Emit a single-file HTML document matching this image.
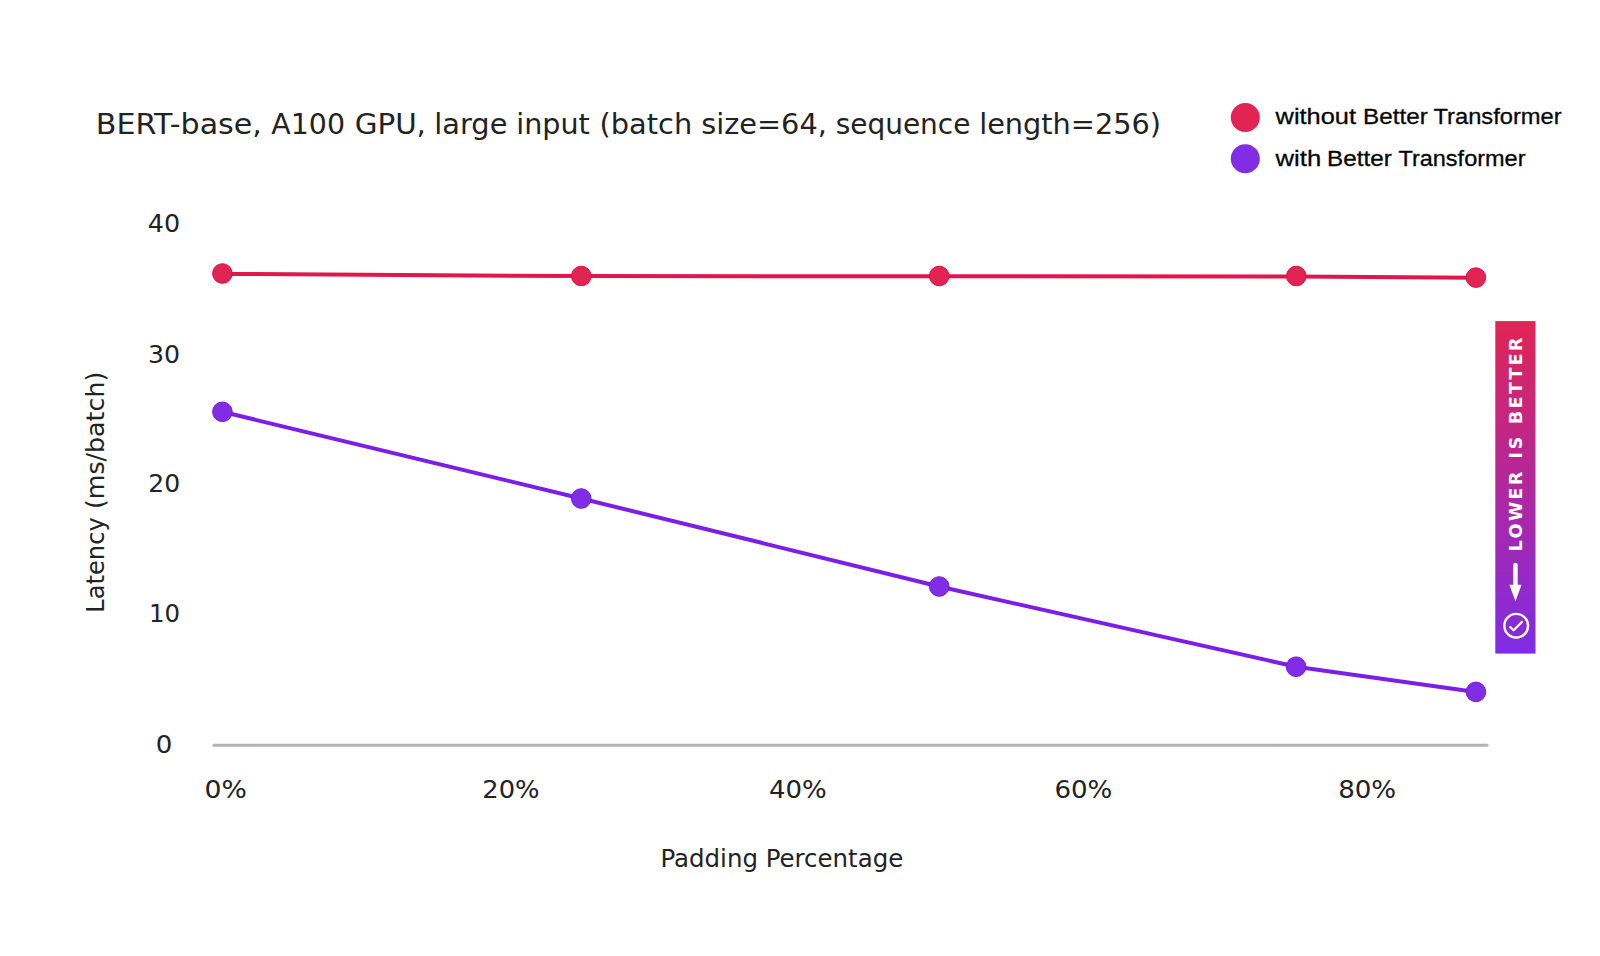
<!DOCTYPE html>
<html lang="en">
<head>
<meta charset="utf-8">
<title>BERT-base latency chart</title>
<style>
  html, body { margin: 0; padding: 0; background: #ffffff; }
  body { width: 1600px; height: 956px; overflow: hidden; }
  svg { display: block; }
  .v { font-family: "DejaVu Sans", "Liberation Sans", sans-serif; fill: #222222; }
  .vb { font-family: "DejaVu Sans", "Liberation Sans", sans-serif; font-weight: bold; fill: #ffffff; }
  .c { font-family: "Liberation Sans", "DejaVu Sans", sans-serif; fill: #050505; stroke: #050505; stroke-width: 0.3px; }
</style>
</head>
<body>
<svg width="1600" height="956" viewBox="0 0 1600 956">
  <defs>
    <linearGradient id="bg" x1="0" y1="0" x2="0" y2="1">
      <stop offset="0" stop-color="#E12454"/>
      <stop offset="1" stop-color="#802BE6"/>
    </linearGradient>
  </defs>
  <rect x="0" y="0" width="1600" height="956" fill="#ffffff"/>

  <!-- title -->
  <text class="v" y="134.3" font-size="28" lengthAdjust="spacingAndGlyphs"><tspan x="95.8" textLength="166.02" lengthAdjust="spacingAndGlyphs">BERT-base,</tspan> <tspan x="271.25" textLength="73.74" lengthAdjust="spacingAndGlyphs">A100</tspan> <tspan x="354.68" textLength="71.29" lengthAdjust="spacingAndGlyphs">GPU,</tspan> <tspan x="434.27" textLength="73.15" lengthAdjust="spacingAndGlyphs">large</tspan> <tspan x="516.29" textLength="73.5" lengthAdjust="spacingAndGlyphs">input</tspan> <tspan x="599.52" textLength="92.74" lengthAdjust="spacingAndGlyphs">(batch</tspan> <tspan x="701.21" textLength="125.65" lengthAdjust="spacingAndGlyphs">size=64,</tspan> <tspan x="835.7" textLength="134.73" lengthAdjust="spacingAndGlyphs">sequence</tspan> <tspan x="979.17" textLength="181.92" lengthAdjust="spacingAndGlyphs">length=256)</tspan></text>

  <!-- legend -->
  <circle cx="1245.3" cy="117.5" r="14.5" fill="#E12454"/>
  <circle cx="1245.3" cy="158.8" r="14.5" fill="#812CE5"/>
  <text class="c" y="124" font-size="22.5"><tspan x="1275.6" textLength="80.45" lengthAdjust="spacingAndGlyphs">without</tspan> <tspan x="1363.11" textLength="64.69" lengthAdjust="spacingAndGlyphs">Better</tspan> <tspan x="1433.47" textLength="128.24" lengthAdjust="spacingAndGlyphs">Transformer</tspan></text>
  <text class="c" y="166.4" font-size="22.5"><tspan x="1275.6" textLength="45.63" lengthAdjust="spacingAndGlyphs">with</tspan> <tspan x="1327.11" textLength="64.69" lengthAdjust="spacingAndGlyphs">Better</tspan> <tspan x="1398.48" textLength="126.98" lengthAdjust="spacingAndGlyphs">Transformer</tspan></text>

  <!-- y tick labels -->
  <g class="v" font-size="25">
    <text x="147.81" y="231.9" textLength="32.3" lengthAdjust="spacingAndGlyphs">40</text>
    <text x="148.06" y="362.6" textLength="32.04" lengthAdjust="spacingAndGlyphs">30</text>
    <text x="148.22" y="491.6" textLength="31.87" lengthAdjust="spacingAndGlyphs">20</text>
    <text x="148.98" y="621.6" textLength="31.07" lengthAdjust="spacingAndGlyphs">10</text>
    <text x="155.76" y="753.4" textLength="16.55" lengthAdjust="spacingAndGlyphs">0</text>
  </g>

  <!-- y axis title -->
  <text class="v" font-size="25" transform="translate(104.2 0) rotate(-90)"><tspan x="-612.71" y="0" textLength="95.41" lengthAdjust="spacingAndGlyphs">Latency</tspan> <tspan x="-509.07" y="0" textLength="137.34" lengthAdjust="spacingAndGlyphs">(ms/batch)</tspan></text>

  <!-- x axis line -->
  <line x1="214" y1="745.25" x2="1487" y2="745.25" stroke="#B3B3B3" stroke-width="3" stroke-linecap="round"/>

  <!-- x tick labels -->
  <g class="v" font-size="25">
    <text x="204.61" y="797.9" textLength="42.33" lengthAdjust="spacingAndGlyphs">0%</text>
    <text x="482.27" y="797.9" textLength="57.26" lengthAdjust="spacingAndGlyphs">20%</text>
    <text x="768.98" y="797.9" textLength="57.76" lengthAdjust="spacingAndGlyphs">40%</text>
    <text x="1054.4" y="797.9" textLength="57.95" lengthAdjust="spacingAndGlyphs">60%</text>
    <text x="1338.15" y="797.9" textLength="58" lengthAdjust="spacingAndGlyphs">80%</text>
  </g>

  <!-- x axis title -->
  <text class="v" x="660.41" y="867.2" font-size="24" textLength="242.85" lengthAdjust="spacingAndGlyphs">Padding Percentage</text>

  <!-- red series -->
  <polyline fill="none" stroke="#E1164A" stroke-width="4" stroke-linejoin="round" stroke-linecap="round"
    points="222.5,273.9 581.3,276.1 939.2,276.3 1296.3,276.6 1475.9,277.7"/>
  <g fill="#E12454" stroke="#E10D44" stroke-width="1">
    <circle cx="222.4" cy="273.5" r="9.8"/>
    <circle cx="581.3" cy="276" r="9.8"/>
    <circle cx="939.2" cy="276" r="9.8"/>
    <circle cx="1296.3" cy="276" r="9.8"/>
    <circle cx="1475.9" cy="277.6" r="9.8"/>
  </g>

  <!-- purple series -->
  <polyline fill="none" stroke="#7C1FE6" stroke-width="4" stroke-linejoin="round" stroke-linecap="round"
    points="222.4,411.8 581.2,498.5 939.2,586.5 1296.1,666.7 1475.9,691.9"/>
  <g fill="#812CE5" stroke="#7A18E6" stroke-width="1">
    <circle cx="222.4" cy="411.8" r="9.8"/>
    <circle cx="581.2" cy="498.5" r="9.8"/>
    <circle cx="939.2" cy="586.5" r="9.8"/>
    <circle cx="1296.1" cy="666.7" r="9.8"/>
    <circle cx="1475.9" cy="691.9" r="9.8"/>
  </g>

  <!-- banner -->
  <rect x="1495.3" y="321.1" width="40.2" height="332.5" fill="url(#bg)"/>
  <text class="vb" font-size="17.4" transform="translate(1521.5 0) rotate(-90)"><tspan x="-551.2" y="0" letter-spacing="2.44">LOWER</tspan> <tspan x="-458.4" y="0" letter-spacing="2.6">IS</tspan> <tspan x="-424" y="0" letter-spacing="2.38">BETTER</tspan></text>
  <g fill="none" stroke="#ffffff" stroke-linecap="round" stroke-linejoin="round">
    <line x1="1515.45" y1="565.1" x2="1515.45" y2="588" stroke-width="4.5"/>
    <circle cx="1516.2" cy="625.7" r="11.85" stroke-width="2.4"/>
    <polyline points="1510.2,627 1513.6,630.3 1522,621.9" stroke-width="2.2"/>
  </g>
  <polygon points="1509.35,584.8 1521.55,584.8 1515.45,601.3" fill="#ffffff"/>
</svg>
</body>
</html>
